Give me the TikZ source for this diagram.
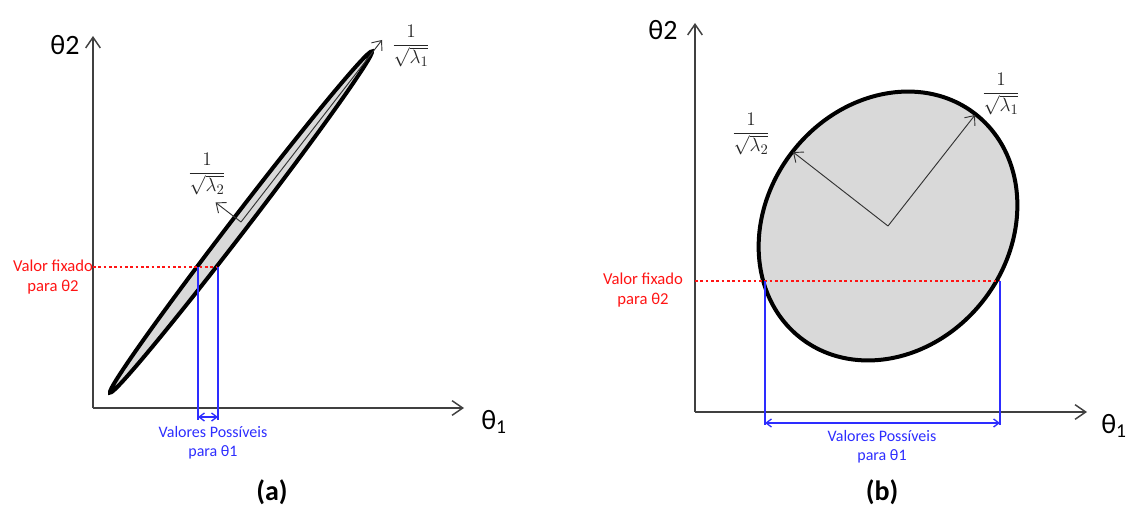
\documentclass[tikz,border=0pt]{standalone}
\usepackage{fontspec}
\setmainfont{Carlito}
\usetikzlibrary{arrows.meta}
\definecolor{fixred}{RGB}{255,20,20}
\definecolor{rngblue}{RGB}{45,45,255}
\begin{document}
\begin{tikzpicture}[x=0.75pt,y=0.75pt,
  axis/.style={draw=black!75,line width=1.1pt,-{Straight Barb[length=8pt,width=11pt]}},
  vec/.style={draw=black!80,line width=0.7pt,-{Straight Barb[length=6pt,width=10pt]}},
  ell/.style={draw=black,line width=3pt,fill=black!15},
  fix/.style={draw=fixred,line width=2pt,dotted},
  rng/.style={draw=rngblue,line width=1pt},
  span/.style={rng,{Straight Barb[length=4pt,width=6pt]}-{Straight Barb[length=4pt,width=6pt]}},
  axlab/.style={font=\fontsize{21}{23}\selectfont,inner sep=1pt},
  frac/.style={font=\fontsize{15}{17}\selectfont,text=black!85,inner sep=1pt},
  fixlab/.style={font=\fontsize{12.5}{15}\selectfont,text=fixred,align=center,inner sep=1pt},
  rnglab/.style={font=\fontsize{12}{14.5}\selectfont,text=rngblue,align=center,inner sep=1pt},
  caplab/.style={font=\fontsize{21}{23}\selectfont\bfseries,inner sep=1pt}]
  \useasboundingbox (0,0) rectangle (1128,508);
  % panel (a)
  \coordinate (oa) at (93,100);
  \coordinate (ya) at (93,472);
  \coordinate (xa) at (464,100);
  \draw[axis] (oa) -- (ya);
  \draw[axis] (oa) -- (xa);
  \node[axlab] (t2a) at (65,463) {θ2};
  \node[axlab] (t1a) at (494,86) {θ\textsubscript{1}};
  \coordinate (ca) at (241,286);
  \draw[ell,rotate around={52.5:(ca)}] (ca) ellipse [x radius=215,y radius=8];
  \coordinate (l1a) at (382,468);
  \coordinate (l2a) at (215.6,305.5);
  \draw[vec] (ca) -- (l1a);
  \draw[vec] (ca) -- (l2a);
  \node[frac] (fa1) at (411,462) {$\displaystyle\frac{1}{\sqrt{\lambda_1}}$};
  \node[frac] (fa2) at (207,334) {$\displaystyle\frac{1}{\sqrt{\lambda_2}}$};
  \coordinate (ra0) at (93,241);
  \coordinate (ra1) at (217,241);
  \draw[fix] (ra0) -- (ra1);
  \node[fixlab] (fxa) at (53,231) {Valor fixado\\para θ2};
  \coordinate (ba1) at (198,241);
  \coordinate (ba2) at (218,241);
  \coordinate (ea1) at (198,88);
  \coordinate (ea2) at (218,88);
  \draw[rng] (ba1) -- (ea1);
  \draw[rng] (ba2) -- (ea2);
  \coordinate (pa1) at (198,91);
  \coordinate (pa2) at (218,91);
  \draw[span] (pa1) -- (pa2);
  \node[rnglab] (vpa) at (213,65) {Valores Possíveis\\para θ1};
  \node[caplab] (capa) at (272,16) {(a)};
  % panel (b)
  \coordinate (ob) at (695,96);
  \coordinate (yb) at (695,485);
  \coordinate (xb) at (1087,96);
  \draw[axis] (ob) -- (yb);
  \draw[axis] (ob) -- (xb);
  \node[axlab] (t2b) at (663,478) {θ2};
  \node[axlab] (t1b) at (1114,82) {θ\textsubscript{1}};
  \coordinate (cb) at (888,282);
  \draw[ell,rotate around={52:(cb)}] (cb) ellipse [x radius=142,y radius=121];
  \coordinate (l1b) at (975,393);
  \coordinate (l2b) at (793,356);
  \draw[vec] (cb) -- (l1b);
  \draw[vec] (cb) -- (l2b);
  \node[frac] (fb1) at (1001,414) {$\displaystyle\frac{1}{\sqrt{\lambda_1}}$};
  \node[frac] (fb2) at (751,374) {$\displaystyle\frac{1}{\sqrt{\lambda_2}}$};
  \coordinate (rb0) at (695,227);
  \coordinate (rb1) at (1000,227);
  \draw[fix] (rb0) -- (rb1);
  \node[fixlab] (fxb) at (643,218) {Valor fixado\\para θ2};
  \coordinate (bb1) at (765,227);
  \coordinate (bb2) at (1000,227);
  \coordinate (eb1) at (765,83);
  \coordinate (eb2) at (1000,83);
  \draw[rng] (bb1) -- (eb1);
  \draw[rng] (bb2) -- (eb2);
  \coordinate (pb1) at (765,85);
  \coordinate (pb2) at (1000,85);
  \draw[span] (pb1) -- (pb2);
  \node[rnglab] (vpb) at (882,61) {Valores Possíveis\\para θ1};
  \node[caplab] (capb) at (882,16) {(b)};
\end{tikzpicture}
\end{document}
